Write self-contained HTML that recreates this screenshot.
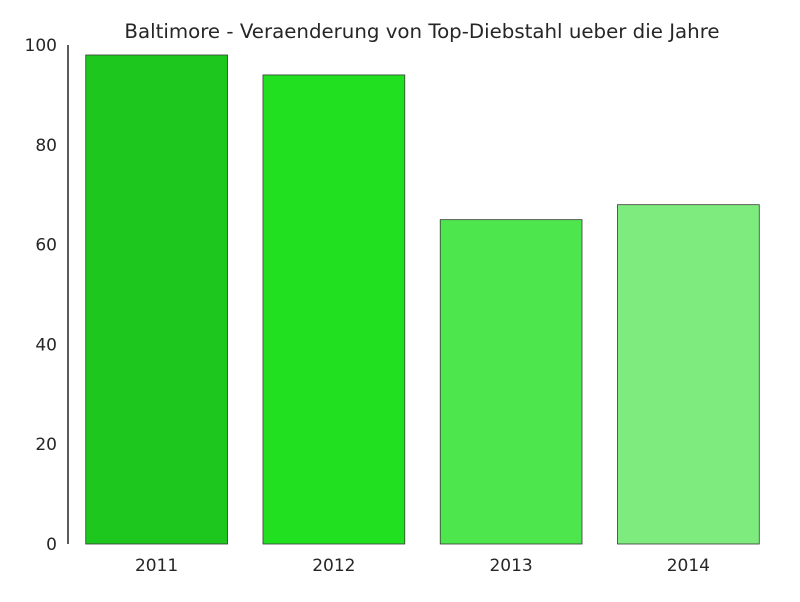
<!DOCTYPE html>
<html><head><meta charset="utf-8"><style>
body{margin:0;background:#fff;}
svg text{font-family:"DejaVu Sans","Liberation Sans",sans-serif;fill:#262626;}
</style></head><body>
<svg id="chart" width="800" height="597">
<text x="422" y="38" text-anchor="middle" font-size="19.8">Baltimore - Veraenderung von Top-Diebstahl ueber die Jahre</text>
<line x1="68" y1="45" x2="68" y2="544" stroke="#262626" stroke-width="1.5"/>
<g id="bars"></g><g id="yticks"></g><g id="xticks"></g>
</svg>
<script>
const categories=["2011","2012","2013","2014"];
const values=[98,94,65,68];
const colors=["#1ec71e","#20e020","#4de64d","#7deb7d"];
const yTicks=[0,20,40,60,80,100];
const L=68,R=777,T=45,B=544;
const y=v=>B-(v/100)*(B-T);
const step=(R-L)/categories.length;
const x=i=>L+step*(i+0.5);
const ns="http://www.w3.org/2000/svg";
const bars=document.getElementById('bars');
categories.forEach((c,i)=>{
 const r=document.createElementNS(ns,'rect');
 r.setAttribute('x',x(i)-step*0.4);r.setAttribute('width',step*0.8);
 r.setAttribute('y',y(values[i]));r.setAttribute('height',B-y(values[i]));
 r.setAttribute('fill',colors[i]);r.setAttribute('stroke','#3a3a3a');r.setAttribute('stroke-width','0.8');
 
 
 bars.appendChild(r);
 const t=document.createElementNS(ns,'text');
 t.setAttribute('x',x(i));t.setAttribute('y',571);t.setAttribute('text-anchor','middle');t.setAttribute('font-size','17');
 t.textContent=c;
 
 
 document.getElementById('xticks').appendChild(t);
});
yTicks.forEach(v=>{
 const t=document.createElementNS(ns,'text');
 t.setAttribute('x',57);t.setAttribute('y',y(v)+6);t.setAttribute('text-anchor','end');t.setAttribute('font-size','17');
 t.textContent=v;
 
 
 document.getElementById('yticks').appendChild(t);
});
</script>
</body></html>
